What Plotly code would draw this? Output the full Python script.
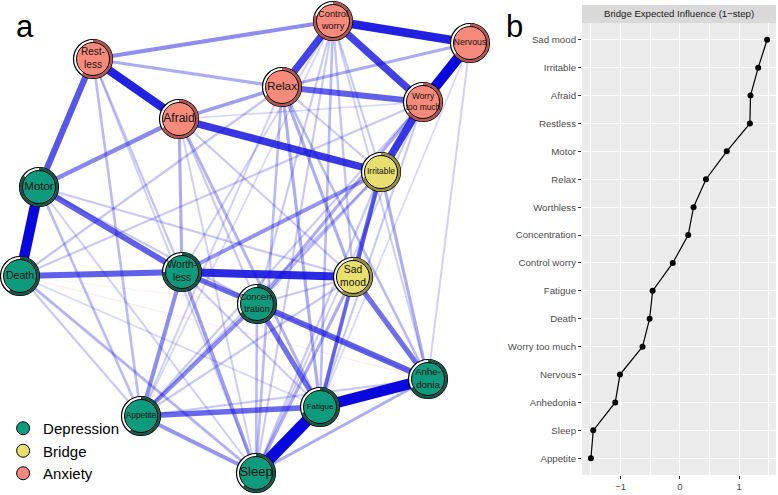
import numpy as np
import plotly.graph_objects as go

W, H = 778, 495
FONT = "Liberation Sans, Arial, sans-serif"

# ---------------- data: network (panel a) ----------------
node_names = ["Control worry", "Nervous", "Restless", "Relax", "Worry too much", "Afraid",
              "Irritable", "Motor", "Death", "Worthless", "Sad mood", "Concentration",
              "Anhedonia", "Fatigue", "Appetite", "Sleep"]
node_labels = ["Control<br>worry", "Nervous", "Rest-<br>less", "Relax", "Worry<br>too much", "Afraid",
               "Irritable", "Motor", "Death", "Worth-<br>less", "Sad<br>mood", "Concen-<br>tration",
               "Anhe-<br>donia", "Fatigue", "Appetite", "Sleep"]
node_group = ["Anxiety", "Anxiety", "Anxiety", "Anxiety", "Anxiety", "Anxiety",
              "Bridge", "Depression", "Depression", "Depression", "Bridge", "Depression",
              "Depression", "Depression", "Depression", "Depression"]
# layout coordinates of the network (spring layout)
layout_x = [333, 470, 93, 282, 423, 179, 381, 39, 20, 182, 353, 257, 428, 320, 141, 256]
layout_y = [21, 43, 59, 87, 102, 119, 172, 187, 276, 272, 277, 304, 379, 407, 416, 473]
predictability = [0.80, 0.65, 0.60, 0.67, 0.65, 0.67, 0.70, 0.85, 0.60, 0.75, 0.60, 0.67,
                  0.67, 0.70, 0.60, 0.62]

edge_from = ["Sleep", "Fatigue", "Motor", "Nervous", "Control worry", "Restless", "Worthless",
             "Worry too much", "Afraid", "Control worry", "Control worry", "Relax", "Restless",
             "Death", "Motor", "Worthless", "Concentration", "Concentration", "Sad mood",
             "Appetite", "Irritable", "Restless", "Afraid", "Worthless", "Concentration",
             "Appetite", "Worthless", "Relax", "Relax", "Restless", "Worry too much",
             "Death", "Death", "Restless", "Restless", "Restless", "Afraid", "Afraid", "Afraid",
             "Afraid", "Afraid", "Control worry", "Control worry", "Control worry", "Control worry",
             "Control worry", "Control worry", "Control worry", "Control worry", "Relax", "Relax",
             "Relax", "Relax", "Relax", "Relax", "Worry too much", "Worry too much", "Worry too much",
             "Nervous", "Nervous", "Irritable", "Irritable", "Irritable", "Irritable", "Irritable",
             "Motor", "Motor", "Motor", "Motor", "Death", "Death", "Death", "Worthless", "Worthless",
             "Sad mood", "Sad mood", "Sad mood", "Sad mood", "Concentration", "Anhedonia",
             "Anhedonia", "Worry too much", "Anhedonia", "Death", "Death"]
edge_to = ["Fatigue", "Anhedonia", "Death", "Worry too much", "Nervous", "Afraid", "Sad mood",
           "Irritable", "Irritable", "Relax", "Worry too much", "Worry too much", "Motor",
           "Worthless", "Worthless", "Concentration", "Anhedonia", "Fatigue", "Anhedonia",
           "Fatigue", "Sad mood", "Control worry", "Motor", "Appetite", "Appetite",
           "Sleep", "Irritable", "Afraid", "Nervous", "Relax", "Concentration",
           "Relax", "Worry too much", "Appetite", "Worthless", "Sleep", "Worthless", "Fatigue",
           "Concentration", "Sad mood", "Sleep", "Worthless", "Concentration", "Sad mood", "Fatigue",
           "Sleep", "Anhedonia", "Appetite", "Irritable", "Fatigue", "Sleep",
           "Anhedonia", "Sad mood", "Appetite", "Irritable", "Appetite", "Sleep", "Afraid",
           "Anhedonia", "Fatigue", "Anhedonia", "Fatigue", "Sleep", "Concentration", "Appetite",
           "Appetite", "Sleep", "Concentration", "Sad mood", "Sleep", "Appetite", "Fatigue", "Sleep",
           "Fatigue", "Fatigue", "Sleep", "Appetite", "Concentration", "Sleep", "Sleep",
           "Appetite", "Fatigue", "Worthless", "Anhedonia", "Concentration"]
edge_weight = [1.00, 0.95, 0.90, 0.90, 0.75, 0.75, 0.72,
               0.68, 0.68, 0.65, 0.65, 0.55, 0.58,
               0.55, 0.55, 0.50, 0.55, 0.50, 0.50,
               0.52, 0.45, 0.40, 0.42, 0.40, 0.40,
               0.38, 0.38, 0.35, 0.30, 0.30, 0.30,
               0.22, 0.20, 0.25, 0.22, 0.18, 0.30, 0.28,
               0.20, 0.20, 0.18, 0.18, 0.20, 0.22, 0.25,
               0.20, 0.18, 0.15, 0.20, 0.30, 0.25,
               0.25, 0.30, 0.18, 0.20, 0.20, 0.18, 0.15,
               0.18, 0.15, 0.30, 0.35, 0.20, 0.25, 0.20,
               0.25, 0.18, 0.20, 0.20, 0.28, 0.20, 0.15, 0.35,
               0.20, 0.35, 0.30, 0.20, 0.20, 0.25, 0.30,
               0.20, 0.20, 0.15, -0.10, -0.08]

group_order = ["Depression", "Bridge", "Anxiety"]

# ---------------- data: bridge expected influence (panel b) ----------------
bei_items = ["Sad mood", "Irritable", "Afraid", "Restless", "Motor", "Relax", "Worthless",
             "Concentration", "Control worry", "Fatigue", "Death", "Worry too much",
             "Nervous", "Anhedonia", "Sleep", "Appetite"]
bei_values = [1.47, 1.32, 1.19, 1.18, 0.79, 0.44, 0.23, 0.14, -0.12, -0.46, -0.51, -0.63,
              -1.01, -1.09, -1.46, -1.50]
x_tick_vals = [-1, 0, 1]

# ---------------- styles ----------------
fill_col = {"Depression": "#0E9A7C", "Bridge": "#E9DF6C", "Anxiety": "#F88A7C"}
ring_col = {"Depression": "#13584A", "Bridge": "#9C9137", "Anxiety": "#B5574D"}
label_size = {"Control worry": 9.3, "Nervous": 8.8, "Restless": 10, "Relax": 11.8,
              "Worry too much": 8.4, "Afraid": 12, "Irritable": 8.4, "Motor": 11.5,
              "Death": 10.5, "Worthless": 10, "Sad mood": 10.3, "Concentration": 9.2,
              "Anhedonia": 9.6, "Fatigue": 8, "Appetite": 8.3, "Sleep": 13}

fig = go.Figure()

idx = {n: i for i, n in enumerate(node_names)}

# edges, weakest first so strong ones are on top
order = np.argsort(np.abs(edge_weight))
for k in order:
    a, b, w = edge_from[k], edge_to[k], edge_weight[k]
    aw = abs(w)
    width = 0.8 + 11 * aw ** 1.3
    alpha = min(1.0, 1.22 * aw ** 1.07)
    col = f"rgba(8,8,222,{alpha:.3f})" if w > 0 else f"rgba(235,90,90,{alpha:.3f})"
    fig.add_trace(go.Scatter(
        x=[layout_x[idx[a]], layout_x[idx[b]]], y=[layout_y[idx[a]], layout_y[idx[b]]],
        mode="lines", line=dict(color=col, width=width), hoverinfo="skip",
        showlegend=False, xaxis="x", yaxis="y"))

# node outer (white ring)
fig.add_trace(go.Scatter(
    x=layout_x, y=layout_y, mode="markers",
    marker=dict(size=39, color="white", line=dict(color="black", width=1.2)),
    hoverinfo="skip", showlegend=False, xaxis="x", yaxis="y"))

# predictability arcs
for i, n in enumerate(node_names):
    f = predictability[i]
    t = np.linspace(0, 1, 80)
    ang = np.deg2rad(90 - 360 * f * t)
    r = 17.9
    fig.add_trace(go.Scatter(
        x=layout_x[i] + r * np.cos(ang), y=layout_y[i] - r * np.sin(ang),
        mode="lines", line=dict(color=ring_col[node_group[i]], width=3.2),
        hoverinfo="skip", showlegend=False, xaxis="x", yaxis="y"))

# node inner colored circle with labels
fig.add_trace(go.Scatter(
    x=layout_x, y=layout_y, mode="markers+text",
    marker=dict(size=33, color=[fill_col[g] for g in node_group],
                line=dict(color="black", width=1)),
    text=node_labels, textposition="middle center",
    textfont=dict(family=FONT, size=[label_size[n] for n in node_names], color="#111111"),
    hoverinfo="skip", showlegend=False, xaxis="x", yaxis="y"))

# legend entries
for g in group_order:
    fig.add_trace(go.Scatter(
        x=[None], y=[None], mode="markers", name=g,
        marker=dict(size=13, color=fill_col[g], line=dict(color="black", width=1)),
        showlegend=True, xaxis="x", yaxis="y"))

# panel b line
fig.add_trace(go.Scatter(
    x=bei_values, y=bei_items, mode="lines+markers",
    line=dict(color="black", width=1.2), marker=dict(color="black", size=6),
    hoverinfo="skip", showlegend=False, xaxis="x2", yaxis="y2"))

px_left, px_right, px_top, px_bot = 582, 776, 23, 475
fig.update_layout(
    template="none",
    width=W, height=H, margin=dict(l=0, r=0, t=0, b=0, autoexpand=False),
    paper_bgcolor="white", plot_bgcolor="rgba(0,0,0,0)",
    font=dict(family=FONT),
    xaxis=dict(domain=[0, 520 / W], range=[0, 520], visible=False, fixedrange=True,
               automargin=False),
    yaxis=dict(domain=[0, 1], range=[H, 0], visible=False, fixedrange=True,
               automargin=False),
    xaxis2=dict(domain=[px_left / W, px_right / W], range=[-1.65, 1.62], automargin=False,
                anchor="y2", tickvals=x_tick_vals, ticks="outside", ticklen=3,
                tickcolor="#333333", tickwidth=1,
                tickfont=dict(size=9.5, color="#4D4D4D", family=FONT),
                showgrid=True, gridcolor="white", gridwidth=1.1, zeroline=False,
                showline=False,
                minor=dict(tickvals=[-1.5, -0.5, 0.5, 1.5], showgrid=True,
                           gridcolor="white", gridwidth=0.55, ticks="")),
    yaxis2=dict(domain=[(H - px_bot) / H, (H - px_top) / H], anchor="x2", automargin=False,
                type="category", categoryarray=bei_items, categoryorder="array",
                range=[15.6, -0.6], ticks="outside", ticklen=3, tickcolor="#333333",
                tickwidth=1,
                tickfont=dict(size=9.7, color="#4D4D4D", family=FONT),
                showgrid=True, gridcolor="white", gridwidth=1.1, zeroline=False,
                showline=False),
    legend=dict(x=0.004, y=(H - 412) / H, xanchor="left", yanchor="top",
                font=dict(size=15, color="black", family=FONT),
                bgcolor="rgba(0,0,0,0)", tracegroupgap=0, itemwidth=30),
    shapes=[
        dict(type="rect", xref="x2 domain", yref="y2 domain", x0=0, x1=1, y0=0, y1=1,
             fillcolor="#EBEBEB", line=dict(width=0), layer="below"),
        dict(type="rect", xref="paper", yref="paper", x0=px_left / W, x1=px_right / W,
             y0=(H - px_top) / H, y1=(H - 5) / H, fillcolor="#D9D9D9", line=dict(width=0)),
    ],
    annotations=[
        dict(text="Bridge Expected Influence (1\u2212step)", xref="paper", yref="paper",
             x=(px_left + px_right) / 2 / W, y=(H - 14) / H, showarrow=False,
             xanchor="center", yanchor="middle",
             font=dict(size=9.6, color="#1A1A1A", family=FONT)),
        dict(text="a", xref="paper", yref="paper", x=24.5 / W, y=(H - 26) / H,
             showarrow=False, xanchor="center", yanchor="middle",
             font=dict(size=31, color="black", family=FONT)),
        dict(text="b", xref="paper", yref="paper", x=514 / W, y=(H - 26) / H,
             showarrow=False, xanchor="center", yanchor="middle",
             font=dict(size=31, color="black", family=FONT)),
    ],
)

fig.write_html("out.html", config={"displayModeBar": False},
               post_script="document.body.style.margin='0px';")
